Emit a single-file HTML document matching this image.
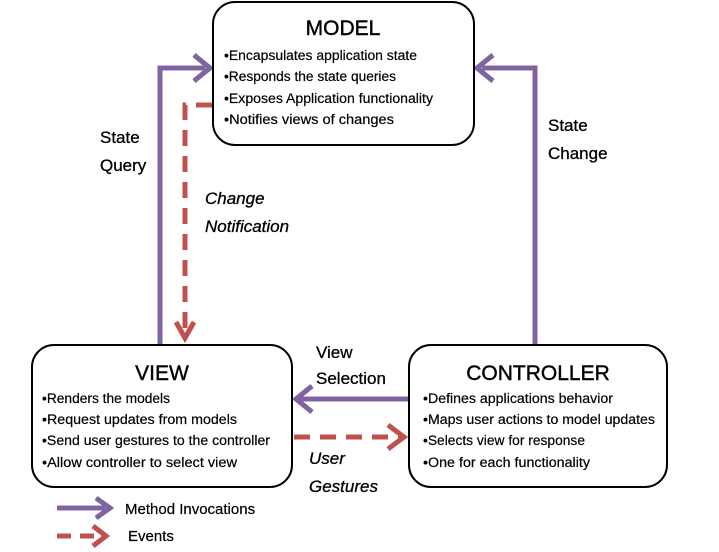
<!DOCTYPE html>
<html><head><style>body{margin:0;background:#fff}svg{display:block}</style></head><body>
<svg width="719" height="552" viewBox="0 0 719 552" xmlns="http://www.w3.org/2000/svg" font-family="Liberation Sans, sans-serif">
<g fill="none" stroke-width="5">
<polyline points="160,345 160,68 205,68" stroke="#8064a2"/>
<polyline points="194,55 210,68 194,81" stroke="#8064a2" stroke-linejoin="miter"/>
<polyline points="535,345 535,68 482,68" stroke="#8064a2"/>
<polyline points="493,55 477,68 493,81" stroke="#8064a2"/>
<polyline points="212,105 185,105 185,335" stroke="#c0504d" stroke-dasharray="16,10"/>
<polyline points="176,322 185,338 194,322" stroke="#c0504d"/>
<line x1="408" y1="399" x2="298" y2="399" stroke="#8064a2"/>
<polyline points="312,386 296,399 312,412" stroke="#8064a2"/>
<line x1="294" y1="437" x2="400" y2="437" stroke="#c0504d" stroke-dasharray="16,10"/>
<polyline points="388,425 404,437 388,449" stroke="#c0504d"/>
<line x1="57" y1="508" x2="105" y2="508" stroke="#8064a2"/>
<polyline points="96,498 110,508 96,518" stroke="#8064a2"/>
<line x1="57" y1="536" x2="100" y2="536" stroke="#c0504d" stroke-dasharray="14,9"/>
<polyline points="93,526 106,536 93,546" stroke="#c0504d"/>
</g>
<g fill="#fff" stroke="#000" stroke-width="2">
<rect x="213" y="2" width="261" height="143" rx="22"/>
<rect x="32" y="345" width="260" height="142" rx="22"/>
<rect x="409" y="345" width="258" height="142" rx="22"/>
</g>
<g fill="#000">
<text x="343" y="35" font-size="21" text-anchor="middle" stroke="#000" stroke-width="0.4">MODEL</text>
<g font-size="13.5" stroke="#000" stroke-width="0.2">
<text x="224" y="60" textLength="193" lengthAdjust="spacingAndGlyphs">•Encapsulates  application state</text>
<text x="224" y="81" textLength="172" lengthAdjust="spacingAndGlyphs">•Responds the state queries</text>
<text x="224" y="103" textLength="209" lengthAdjust="spacingAndGlyphs">•Exposes Application  functionality</text>
<text x="224" y="124" textLength="170" lengthAdjust="spacingAndGlyphs">•Notifies views of changes</text>
</g>
<text x="162" y="380" font-size="21" text-anchor="middle" stroke="#000" stroke-width="0.4">VIEW</text>
<g font-size="13.5" stroke="#000" stroke-width="0.2">
<text x="42" y="403" textLength="128" lengthAdjust="spacingAndGlyphs">•Renders the models</text>
<text x="42" y="424" textLength="195" lengthAdjust="spacingAndGlyphs">•Request  updates from models</text>
<text x="42" y="445" textLength="228" lengthAdjust="spacingAndGlyphs">•Send user gestures to the controller</text>
<text x="42" y="467" textLength="195" lengthAdjust="spacingAndGlyphs">•Allow controller to select view</text>
</g>
<text x="538" y="380" font-size="21" text-anchor="middle" stroke="#000" stroke-width="0.4">CONTROLLER</text>
<g font-size="13.5" stroke="#000" stroke-width="0.2">
<text x="423" y="403" textLength="190" lengthAdjust="spacingAndGlyphs">•Defines applications  behavior</text>
<text x="423" y="424" textLength="232" lengthAdjust="spacingAndGlyphs">•Maps user actions to model updates</text>
<text x="423" y="445" textLength="162" lengthAdjust="spacingAndGlyphs">•Selects view for response</text>
<text x="423" y="467" textLength="167" lengthAdjust="spacingAndGlyphs">•One for each functionality</text>
</g>
<g font-size="17" stroke="#000" stroke-width="0.3">
<text x="100" y="143">State</text>
<text x="100" y="171">Query</text>
<text x="548" y="131">State</text>
<text x="548" y="159">Change</text>
<text x="316" y="358">View</text>
<text x="316" y="384">Selection</text>
<text x="205" y="204" font-style="italic">Change</text>
<text x="205" y="232" font-style="italic">Notification</text>
<text x="309" y="464" font-style="italic">User</text>
<text x="309" y="492" font-style="italic">Gestures</text>
</g>
<text x="125" y="514" font-size="15" stroke="#000" stroke-width="0.2">Method Invocations</text>
<text x="128" y="541" font-size="15" stroke="#000" stroke-width="0.2">Events</text>
</g>
</svg>
</body></html>
